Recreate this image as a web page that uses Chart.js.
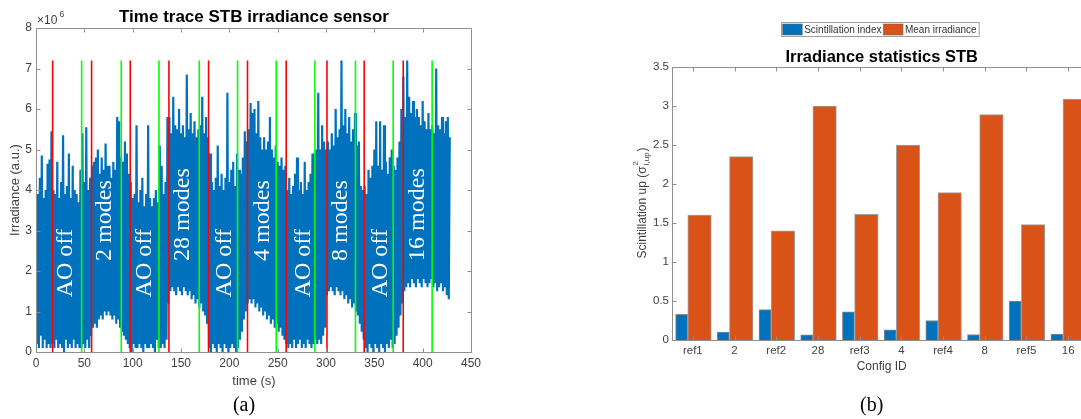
<!DOCTYPE html>
<html>
<head>
<meta charset="utf-8">
<script src="https://cdn.jsdelivr.net/npm/chart.js@4.4.1/dist/chart.umd.min.js"></script>
<style>
  html, body { margin: 0; padding: 0; background: #ffffff; overflow: hidden; width: 1081px; height: 419px; }
  #traceCanvas { position: absolute; left: 0; top: 0; }
  #statsCanvas { position: absolute; left: 600px; top: 0; }
</style>
</head>
<body>
<canvas id="traceCanvas" width="540" height="419"></canvas>
<canvas id="statsCanvas" width="500" height="419"></canvas>
<script>
// ---------------- DATA : panel (a) ----------------
// Irradiance trace (units of 10^6 a.u.), one reading per second starting at t = 0 s
const sampleInterval = 1;
const irradiance = [
  3.4, 0.2, 3.9, 0.1, 4.3, 0.4, 4.85, 0.1, 3.8, 0.3,
  4.0, 0.1, 4.65, 0.2, 4.75, 0.1, 5.45, 0.2, 4.0, 0.1,
  3.9, 0.3, 4.7, 0.1, 3.8, 0.2, 4.2, 0.1, 5.35, 0.0,
  3.9, 0.3, 4.1, 0.1, 4.9, 0.2, 3.8, 0.1, 4.6, 0.3,
  4.0, 0.1, 3.9, 0.2, 3.7, 0.1, 4.5, 0.1, 5.4, 0.2,
  4.2, 0.1, 5.55, 0.3, 4.0, 0.1, 4.3, 0.4, 4.6, 0.6,
  4.7, 0.7, 4.8, 0.6, 5.0, 0.8, 4.4, 0.9, 4.8, 0.8,
  4.5, 1.0, 5.15, 0.9, 4.6, 1.0, 4.6, 0.9, 4.3, 0.8,
  4.7, 0.9, 4.5, 0.7, 5.8, 0.8, 5.7, 0.6, 4.8, 0.5,
  4.7, 0.4, 5.2, 0.3, 4.9, 0.2, 4.4, 0.1, 4.2, 0.0,
  3.8, 0.2, 3.9, 0.1, 5.6, 0.1, 3.7, 0.2, 4.0, 0.1,
  4.3, 0.0, 3.6, 0.2, 3.9, 0.1, 5.6, 0.1, 3.8, 0.2,
  3.6, 0.1, 3.8, 0.0, 4.0, 0.3, 3.7, 0.1, 5.1, 0.1,
  4.6, 0.2, 3.9, 0.1, 4.2, 0.3, 5.8, 1.2, 5.8, 1.5,
  5.4, 1.6, 6.3, 1.5, 5.6, 1.4, 5.5, 1.6, 6.0, 1.5,
  5.4, 1.4, 5.6, 1.6, 5.3, 1.5, 6.85, 1.4, 5.5, 1.5,
  5.9, 1.3, 5.4, 1.4, 5.7, 1.2, 5.3, 1.3, 5.5, 1.1,
  5.6, 1.2, 6.3, 1.0, 5.4, 0.9, 5.8, 0.7, 5.3, 0.1,
  4.9, 0.0, 4.2, 0.2, 4.0, 0.1, 4.3, 0.0, 5.1, 0.2,
  4.1, 0.1, 4.4, 0.0, 4.0, 0.2, 4.3, 0.1, 6.4, 0.0,
  4.2, 0.1, 4.5, 0.2, 4.7, 0.1, 4.1, 0.0, 4.9, 0.1,
  4.5, 0.3, 4.4, 0.5, 4.8, 0.8, 5.45, 1.0, 5.2, 1.2,
  5.5, 1.3, 6.15, 1.2, 5.9, 1.3, 6.0, 1.1, 5.4, 1.2,
  6.2, 1.0, 5.3, 1.1, 5.0, 0.9, 5.3, 1.0, 5.0, 0.8,
  5.2, 0.9, 5.8, 0.7, 5.0, 0.8, 4.8, 0.6, 5.1, 0.7,
  4.7, 0.5, 4.6, 0.6, 4.8, 0.4, 4.5, 0.3, 4.6, 0.2,
  4.0, 0.1, 4.3, 0.2, 3.9, 0.1, 4.1, 0.3, 4.4, 0.1,
  4.8, 0.2, 4.0, 0.3, 4.2, 0.1, 3.9, 0.2, 4.7, 0.1,
  4.0, 0.3, 4.2, 0.2, 4.4, 0.1, 4.9, 0.2, 4.9, 0.3,
  5.0, 0.2, 6.4, 0.3, 5.0, 0.2, 5.6, 0.4, 5.2, 0.6,
  5.0, 1.4, 5.2, 1.5, 5.0, 1.6, 5.4, 1.5, 5.1, 1.4,
  6.0, 1.6, 5.3, 1.5, 5.5, 1.4, 7.2, 1.5, 5.6, 1.3,
  6.0, 1.4, 5.4, 1.2, 5.8, 1.3, 5.2, 1.1, 5.5, 1.2,
  5.9, 1.0, 5.1, 0.9, 5.2, 0.7, 4.1, 0.5, 4.0, 0.3,
  4.1, 0.1, 3.9, 0.0, 4.5, 0.2, 4.3, 0.1, 4.6, 0.0,
  5.0, 0.2, 5.7, 0.1, 4.6, 0.0, 5.7, 0.2, 4.5, 0.1,
  5.6, 0.0, 4.7, 0.2, 4.4, 0.1, 4.8, 0.3, 5.0, 0.1,
  4.6, 0.2, 4.5, 0.4, 4.8, 0.6, 5.2, 0.9, 6.0, 1.2,
  6.8, 1.5, 5.8, 1.6, 7.2, 1.7, 6.3, 1.6, 5.9, 1.8,
  6.2, 1.7, 5.8, 1.6, 6.0, 1.8, 5.8, 1.7, 5.6, 1.6,
  6.2, 1.8, 5.7, 1.7, 5.5, 1.6, 5.9, 1.7, 5.5, 1.8,
  5.6, 1.6, 5.4, 1.7, 7.0, 1.5, 5.6, 1.6, 5.5, 1.7,
  5.8, 1.5, 5.4, 1.6, 5.7, 1.4, 5.8, 1.3, 5.3
];
// vertical marker lines (s)
const redMarkerTimes = [17.2, 57.5, 97.5, 137.5, 178.5, 218.8, 258.8, 301.0, 339.5, 379.9];
const greenMarkerTimes = [47.2, 88.2, 127.2, 168.9, 208.5, 248.5, 288.5, 330.5, 369.5, 409.8];
const markerHeight = 7.2; // 10^6 a.u.
// segment annotations
const segmentLabels = ['AO off', '2 modes', 'AO off', '28 modes', 'AO off', '4 modes', 'AO off', '8 modes', 'AO off', '16 modes'];
const segmentLabelTimes = [31, 70.7, 112, 151.8, 194.7, 234.5, 277, 315.5, 356.6, 394.8];
const segmentLabelBase = [1.35, 2.25, 1.35, 2.25, 1.35, 2.25, 1.35, 2.25, 1.35, 2.25];
const timeTicks = [0, 50, 100, 150, 200, 250, 300, 350, 400, 450];
const irradianceTicks = [0, 1, 2, 3, 4, 5, 6, 7, 8];

// ---------------- DATA : panel (b) ----------------
const configIds = ['ref1', '2', 'ref2', '28', 'ref3', '4', 'ref4', '8', 'ref5', '16'];
const scintillationIndex = [0.33, 0.10, 0.39, 0.065, 0.36, 0.13, 0.25, 0.07, 0.50, 0.075];
const meanIrradiance = [1.60, 2.35, 1.40, 3.00, 1.61, 2.50, 1.89, 2.89, 1.48, 3.09];
const statsTicks = [0, 0.5, 1, 1.5, 2, 2.5, 3, 3.5];

// ---------------- STYLE ----------------
const SANS = '"Liberation Sans", Arial, Helvetica, sans-serif';
const SERIF = '"Liberation Serif", "Times New Roman", serif';
const AXIS_GRAY = '#8f8f8f';
const TEXT_GRAY = '#3f3f3f';
const MATLAB_BLUE = '#0072BD';
const MATLAB_ORANGE = '#D95319';
Chart.defaults.font.family = SANS;

function drawBox(chart, xTicks, yTicks, tickLen, drawRightTicks) {
  const { ctx, chartArea: a, scales: { x, y } } = chart;
  ctx.save();
  ctx.strokeStyle = AXIS_GRAY;
  ctx.lineWidth = 1;
  const l = Math.round(a.left) + 0.5, t = Math.round(a.top) + 0.5;
  const r = Math.round(a.right) + 0.5, b = Math.round(a.bottom) + 0.5;
  ctx.beginPath();
  ctx.rect(l, t, r - l, b - t);
  xTicks.forEach(v => {
    const px = Math.round(x.getPixelForValue(v)) + 0.5;
    ctx.moveTo(px, b); ctx.lineTo(px, b - tickLen);
    ctx.moveTo(px, t); ctx.lineTo(px, t + tickLen);
  });
  yTicks.forEach(v => {
    const py = Math.round(y.getPixelForValue(v)) + 0.5;
    ctx.moveTo(l, py); ctx.lineTo(l + tickLen, py);
    if (drawRightTicks) { ctx.moveTo(r, py); ctx.lineTo(r - tickLen, py); }
  });
  ctx.stroke();
  ctx.restore();
}

function text(ctx, str, x, y, font, color, align, baseline) {
  ctx.font = font;
  ctx.fillStyle = color;
  ctx.textAlign = align || 'center';
  ctx.textBaseline = baseline || 'alphabetic';
  ctx.fillText(str, x, y);
}

// ---------------- PANEL (a) ----------------
const tracePoints = irradiance.map((v, i) => ({ x: i * sampleInterval, y: v }));
function markerPoints(times) {
  const pts = [];
  times.forEach(t => { pts.push({ x: t, y: 0 }, { x: t, y: markerHeight }, { x: t, y: null }); });
  return pts;
}

const tracePlugin = {
  id: 'traceDecor',
  afterDatasetsDraw(chart) {
    const { ctx, scales: { x, y } } = chart;
    ctx.save();
    segmentLabels.forEach((lab, i) => {
      ctx.save();
      ctx.translate(x.getPixelForValue(segmentLabelTimes[i]), y.getPixelForValue(segmentLabelBase[i]));
      ctx.rotate(-Math.PI / 2);
      text(ctx, lab, 0, 0, '24px ' + SERIF, '#ffffff', 'left', 'middle');
      ctx.restore();
    });
    ctx.restore();
  },
  afterDraw(chart) {
    const { ctx } = chart;
    drawBox(chart, timeTicks, irradianceTicks, 4, true);
    ctx.save();
    text(ctx, 'Time trace STB irradiance sensor', 254, 22, 'bold 17px ' + SANS, '#000000');
    text(ctx, '\u00d710', 37, 24, '12px ' + SANS, TEXT_GRAY, 'left');
    text(ctx, '6', 59.5, 17, '8.5px ' + SANS, TEXT_GRAY, 'left');
    text(ctx, 'time (s)', 254, 381, '13px ' + SANS, TEXT_GRAY, 'center', 'middle');
    text(ctx, '(a)', 244, 406, '20px ' + SERIF, '#000000', 'center', 'middle');
    ctx.save();
    ctx.translate(15, 190);
    ctx.rotate(-Math.PI / 2);
    text(ctx, 'Irradiance (a.u.)', 0, 0, '13px ' + SANS, TEXT_GRAY, 'center', 'middle');
    ctx.restore();
    ctx.restore();
  }
};

new Chart(document.getElementById('traceCanvas'), {
  type: 'line',
  data: {
    datasets: [
      { label: 'red markers', data: markerPoints(redMarkerTimes), borderColor: '#ff0000', borderWidth: 1.6, pointRadius: 0, spanGaps: false, order: 0 },
      { label: 'green markers', data: markerPoints(greenMarkerTimes), borderColor: '#00ff00', borderWidth: 1.6, pointRadius: 0, spanGaps: false, order: 0 },
      { label: 'irradiance', data: tracePoints, borderColor: MATLAB_BLUE, borderWidth: 2.2, pointRadius: 0, tension: 0, order: 1 }
    ]
  },
  options: {
    responsive: false,
    animation: false,
    devicePixelRatio: 1,
    events: [],
    layout: { padding: { top: 28, right: 69, left: 0, bottom: 0 } },
    plugins: { legend: { display: false }, tooltip: { enabled: false }, title: { display: false } },
    scales: {
      x: {
        type: 'linear', min: 0, max: 450,
        afterBuildTicks: s => { s.ticks = timeTicks.map(v => ({ value: v })); },
        afterFit: s => { s.height = 67; },
        grid: { display: false, drawTicks: false },
        border: { display: false },
        ticks: { font: { size: 12 }, color: TEXT_GRAY, padding: 4, maxRotation: 0, autoSkip: false }
      },
      y: {
        type: 'linear', min: 0, max: 8,
        afterBuildTicks: s => { s.ticks = irradianceTicks.map(v => ({ value: v })); },
        afterFit: s => { s.width = 36; },
        grid: { display: false, drawTicks: false },
        border: { display: false },
        ticks: { font: { size: 12 }, color: TEXT_GRAY, padding: 4 }
      }
    }
  },
  plugins: [tracePlugin]
});

// ---------------- PANEL (b) ----------------
const statsPlugin = {
  id: 'statsDecor',
  afterDraw(chart) {
    const { ctx } = chart;
    drawBox(chart, configIds.map((_, i) => i + 1), statsTicks, 4, false);
    ctx.save();
    text(ctx, 'Irradiance statistics STB', 281.7, 62, 'bold 16.5px ' + SANS, '#000000');
    text(ctx, 'Config ID', 281.7, 367, '12px ' + SANS, TEXT_GRAY, 'center', 'middle');
    text(ctx, '(b)', 271.7, 406, '20px ' + SERIF, '#000000', 'center', 'middle');

    // legend
    ctx.font = '10px ' + SANS;
    const ds = chart.data.datasets;
    const sw = 19.5, gap = 2;
    const widths = ds.map(d => ctx.measureText(d.label).width);
    const boxL = 181, boxT = 22.5, boxH = 14;
    let cx = boxL + 1.7;
    const total = 1.7 + ds.length * (sw + gap) + widths.reduce((a, b) => a + b, 0) + (ds.length - 1) * gap + 2;
    ctx.fillStyle = '#ffffff';
    ctx.fillRect(boxL, boxT, total, boxH);
    ctx.strokeStyle = '#a0a0a0';
    ctx.lineWidth = 1;
    ctx.strokeRect(boxL + 0.5, boxT, total, boxH);
    ds.forEach((d, i) => {
      ctx.fillStyle = d.backgroundColor;
      ctx.fillRect(cx, boxT + 1.5, sw, boxH - 3);
      ctx.strokeStyle = '#666666';
      ctx.lineWidth = 0.6;
      ctx.strokeRect(cx, boxT + 1.5, sw, boxH - 3);
      cx += sw + gap;
      text(ctx, d.label, cx, boxT + boxH / 2 + 0.5, '10px ' + SANS, '#333333', 'left', 'middle');
      cx += widths[i] + gap;
    });

    // y axis title with sigma^2_{I,up}
    ctx.save();
    ctx.translate(41, 203);
    ctx.rotate(-Math.PI / 2);
    const mainStr = 'Scintillation up (\u03c3';
    ctx.font = '12px ' + SANS;
    const wMain = ctx.measureText(mainStr).width;
    const wClose = ctx.measureText(')').width;
    ctx.font = '8px ' + SANS;
    const wScript = Math.max(ctx.measureText('2').width, ctx.measureText('I,up').width);
    const totalW = wMain + wScript + wClose + 1.5;
    const x0 = -totalW / 2;
    text(ctx, mainStr, x0, 4.5, '12px ' + SANS, TEXT_GRAY, 'left');
    text(ctx, '2', x0 + wMain + 0.7, -3, '8px ' + SANS, TEXT_GRAY, 'left');
    text(ctx, 'I,up', x0 + wMain + 0.7, 8, '8px ' + SANS, TEXT_GRAY, 'left');
    text(ctx, ')', x0 + wMain + wScript + 1.5, 4.5, '12px ' + SANS, TEXT_GRAY, 'left');
    ctx.restore();
    ctx.restore();
  }
};

new Chart(document.getElementById('statsCanvas'), {
  type: 'bar',
  data: {
    datasets: [
      {
        label: 'Scintillation index',
        data: configIds.map((_, i) => ({ x: i + 1 - 0.27, y: scintillationIndex[i] })),
        backgroundColor: MATLAB_BLUE, borderColor: 'rgba(40,40,40,0.55)', borderWidth: 1,
        barThickness: 12, grouped: false, order: 1
      },
      {
        label: 'Mean irradiance',
        data: configIds.map((_, i) => ({ x: i + 1 + 0.16, y: meanIrradiance[i] })),
        backgroundColor: MATLAB_ORANGE, borderColor: 'rgba(120,120,120,0.7)', borderWidth: 1,
        barThickness: 23.5, grouped: false, order: 0
      }
    ]
  },
  options: {
    responsive: false,
    animation: false,
    devicePixelRatio: 1,
    events: [],
    layout: { padding: { top: 67, right: 11, left: 0, bottom: 0 } },
    plugins: { legend: { display: false }, tooltip: { enabled: false }, title: { display: false } },
    scales: {
      x: {
        type: 'linear', min: 0.5, max: 10.5, offset: false,
        afterBuildTicks: s => { s.ticks = configIds.map((_, i) => ({ value: i + 1 })); },
        afterFit: s => { s.height = 79; },
        grid: { display: false, drawTicks: false, offset: false },
        border: { display: false },
        ticks: {
          font: { size: 11.5 }, color: TEXT_GRAY, padding: 4, maxRotation: 0, autoSkip: false,
          callback: v => configIds[Math.round(v) - 1]
        }
      },
      y: {
        type: 'linear', min: 0, max: 3.5,
        afterBuildTicks: s => { s.ticks = statsTicks.map(v => ({ value: v })); },
        afterFit: s => { s.width = 72; },
        grid: { display: false, drawTicks: false },
        border: { display: false },
        ticks: { font: { size: 11.5 }, color: TEXT_GRAY, padding: 3, callback: v => String(v) }
      }
    }
  },
  plugins: [statsPlugin]
});
</script>
</body>
</html>
